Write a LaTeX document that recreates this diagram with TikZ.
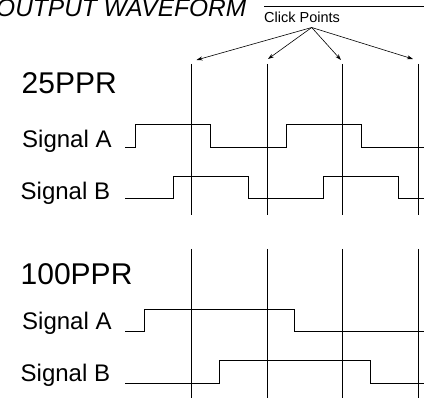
\documentclass[tikz,border=0pt]{standalone}
\usepackage{fontspec}
\setmainfont{Liberation Sans}
\usetikzlibrary{arrows.meta}
\begin{document}
\begin{tikzpicture}[x=1pt,y=-1pt,
  wave/.style={line width=0.9pt,line join=miter},
  vline/.style={line width=0.9pt},
  lbl/.style={inner sep=0pt,anchor=base west},
  arr/.style={line width=0.6pt,-{Stealth[length=6pt,width=4pt]}}]
\useasboundingbox (0,0) rectangle (424,398);
% title
\node[lbl,font=\itshape\fontsize{24.5}{28}\selectfont] (title) at (-4,16.7) {OUTPUT WAVEFORM};
\coordinate (ls) at (264,6);
\coordinate (le) at (424,6);
\draw[line width=0.8pt] (ls) -- (le);
\node[lbl,font=\fontsize{14.5}{16}\selectfont] (cp) at (264,22.7) {Click Points};
\coordinate (apex) at (311.7,27.5);
\coordinate (t1) at (196.5,60);
\coordinate (t2) at (268,59);
\coordinate (t3) at (341,60);
\coordinate (t4) at (413,59);
\foreach \t in {t1,t2,t3,t4} \draw[arr] (apex) -- (\t);
% labels
\node[lbl,font=\fontsize{30}{34}\selectfont] (p25) at (21.5,93.5) {25PPR};
\node[lbl,font=\fontsize{24}{28}\selectfont] (sa1) at (22,147.7) {Signal A};
\node[lbl,font=\fontsize{24}{28}\selectfont] (sb1) at (20.5,200) {Signal B};
\node[lbl,font=\fontsize{30}{34}\selectfont] (p100) at (20.5,285) {100PPR};
\node[lbl,font=\fontsize{24}{28}\selectfont] (sa2) at (22,330) {Signal A};
\node[lbl,font=\fontsize{24}{28}\selectfont] (sb2) at (20.5,381.7) {Signal B};
% vertical click lines
\foreach \x in {191,267,342,418} {
  \draw[vline] (\x,64) -- (\x,215);
  \draw[vline] (\x,249) -- (\x,398);
}
% 25PPR signal A
\draw[wave] (125,147.3) -- (135,147.3) -- (135,124.3) -- (210,124.3) -- (210,147.3)
  -- (286,147.3) -- (286,124.3) -- (361,124.3) -- (361,147.3) -- (424,147.3);
% 25PPR signal B
\draw[wave] (125,198.3) -- (173,198.3) -- (173,176) -- (248,176) -- (248,198.3)
  -- (323.3,198.3) -- (323.3,176) -- (398.7,176) -- (398.7,198.3) -- (424,198.3);
% 100PPR signal A
\draw[wave] (125,331.7) -- (144.3,331.7) -- (144.3,309.3) -- (294.7,309.3) -- (294.7,331.7) -- (424,331.7);
% 100PPR signal B
\draw[wave] (125,383.3) -- (219.3,383.3) -- (219.3,360.7) -- (370.3,360.7) -- (370.3,383.3) -- (424,383.3);
\end{tikzpicture}
\end{document}
